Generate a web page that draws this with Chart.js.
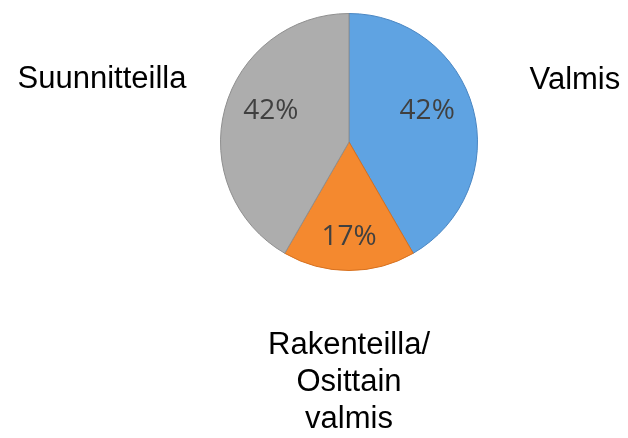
<!DOCTYPE html>
<html>
<head>
<meta charset="utf-8">
<script src="https://cdn.jsdelivr.net/npm/chart.js@4/dist/chart.umd.min.js"></script>
<style>
  html, body { margin: 0; padding: 0; background: #fff; }
  #wrap { width: 628px; height: 438px; }
</style>
</head>
<body>
<div id="wrap"><canvas id="pie"></canvas></div>
<script>
// data
const categories = ['Valmis', ['Rakenteilla/', 'Osittain', 'valmis'], 'Suunnitteilla'];
const counts = [5, 2, 5];
const percentLabels = ['42%', '17%', '42%'];

const baseColors = ['#5fa3e2', '#f4892f', '#adadad'];
const rimColors = ['#4a86c2', '#d6701e', '#8f8f8f'];

// soft bevel look: flat inside, darker towards the rim
function sliceFill(context) {
  const chart = context.chart;
  const arc = chart.getDatasetMeta(0).data[context.dataIndex];
  if (!arc || !arc.outerRadius) return baseColors[context.dataIndex];
  const g = chart.ctx.createRadialGradient(arc.x, arc.y, 0, arc.x, arc.y, arc.outerRadius);
  g.addColorStop(0, baseColors[context.dataIndex]);
  g.addColorStop(0.88, baseColors[context.dataIndex]);
  g.addColorStop(1, rimColors[context.dataIndex]);
  return g;
}

const pieLabels = {
  id: 'pieLabels',
  afterDatasetsDraw(chart) {
    const ctx = chart.ctx;
    const meta = chart.getDatasetMeta(0);
    const inR = [0.63, 0.74, 0.63];
    const inLift = [10, 0, 10];
    const outR = [1.82, 1.87, 1.99];
    const outShift = [-1, 0, 4];
    ctx.save();
    ctx.textAlign = 'center';
    ctx.textBaseline = 'middle';
    meta.data.forEach((arc, i) => {
      const mid = (arc.startAngle + arc.endAngle) / 2;
      const dx = Math.cos(mid), dy = Math.sin(mid);
      const R = arc.outerRadius;

      ctx.font = '28px "Open Sans"';
      ctx.fillStyle = '#404040';
      ctx.fillText(percentLabels[i], arc.x + dx * R * inR[i], arc.y + dy * R * inR[i] - inLift[i]);

      ctx.font = '31px "Liberation Sans", Arial, sans-serif';
      ctx.fillStyle = '#000';
      const lines = Array.isArray(categories[i]) ? categories[i] : [categories[i]];
      const lh = 37;
      const cx = arc.x + dx * R * outR[i];
      const cy = arc.y + dy * R * outR[i] + outShift[i] - (lines.length - 1) * lh / 2;
      lines.forEach((t, k) => ctx.fillText(t, cx, cy + k * lh));
    });
    ctx.restore();
  }
};

new Chart(document.getElementById('pie'), {
  type: 'pie',
  data: {
    labels: categories,
    datasets: [{
      data: counts,
      backgroundColor: sliceFill,
      borderColor: rimColors,
      borderWidth: 1
    }]
  },
  options: {
    responsive: true,
    maintainAspectRatio: false,
    animation: false,
    layout: { padding: { left: 70, right: 0, top: 13, bottom: 167 } },
    plugins: {
      legend: { display: false },
      tooltip: { enabled: false }
    }
  },
  plugins: [pieLabels]
});
</script>
</body>
</html>
